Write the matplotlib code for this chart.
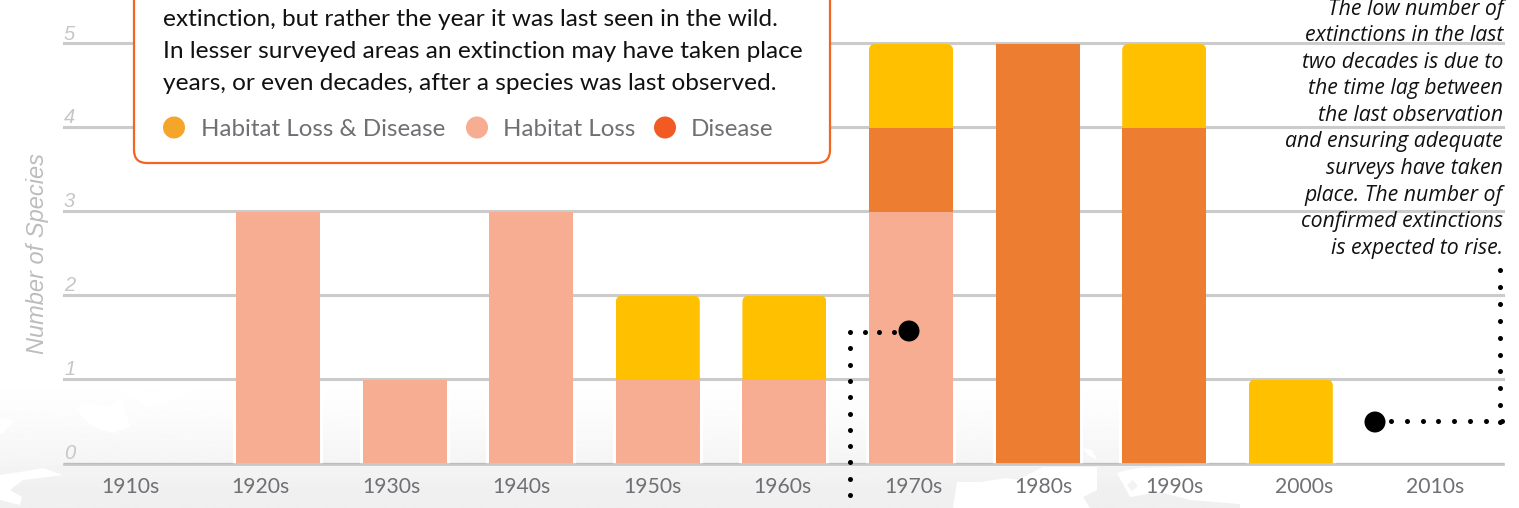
import numpy as np
import matplotlib
matplotlib.use('Agg')
import matplotlib.pyplot as plt
from matplotlib.patches import FancyBboxPatch, Polygon, Circle

plt.rcParams['font.family'] = ['Lato', 'DejaVu Sans']

decades = ['1910s', '1920s', '1930s', '1940s', '1950s', '1960s', '1970s', '1980s', '1990s', '2000s', '2010s']
habitat = [0, 3, 1, 3, 1, 1, 3, 0, 0, 0, 0]
disease = [0, 0, 0, 0, 0, 0, 1, 5, 4, 0, 0]
both = [0, 0, 0, 0, 1, 1, 1, 0, 1, 1, 0]
y_ticks = [0, 1, 2, 3, 4, 5]

box_lines = ['extinction, but rather the year it was last seen in the wild.',
             'In lesser surveyed areas an extinction may have taken place',
             'years, or even decades, after a species was last observed.']
note_lines = ['The low number of', 'extinctions in the last', 'two decades is due to',
              'the time lag between', 'the last observation', 'and ensuring adequate',
              'surveys have taken', 'place. The number of', 'confirmed extinctions',
              'is expected to rise.']
legend_names = ['Habitat Loss & Disease', 'Habitat Loss', 'Disease']

W, H = 1519, 508
PEACH = '#f7ad91'
ORANGE = '#ed7d31'
YELLOW = '#ffc000'
GREY_TEXT = '#6f7073'

fig = plt.figure(figsize=(W / 100, H / 100), dpi=100, facecolor='white')

# background: faded map, grey land with white sea
bg = fig.add_axes([0, 0, 1, 1], zorder=0)
grad = np.clip((np.linspace(340, 508, 100) - 365) / 125, 0, 1)[:, None] ** 1.6
bg.imshow(1 - 0.06 * grad, cmap='gray', vmin=0, vmax=1, extent=[0, 1240, 508, 340], aspect='auto')
bg.set_xlim(0, W)
bg.set_ylim(H, 0)
bg.axis('off')
seas = [
    [(75, 408), (87, 404), (110, 406), (127, 393), (147, 407), (167, 403), (187, 395), (200, 390), (173, 387),
     (150, 395), (135, 385), (120, 392), (130, 427), (113, 433), (100, 430), (88, 423)],
    [(0, 418), (15, 420), (3, 433), (0, 434)],
    [(0, 475), (20, 472), (43, 468), (63, 475), (47, 477), (23, 480), (10, 490), (22, 497), (20, 505), (0, 500)],
    [(953, 508), (957, 482), (980, 482), (1007, 478), (1018, 480), (1043, 467), (1097, 467), (1097, 490),
     (1083, 497), (1090, 508)],
    [(1083, 448), (1092, 450), (1097, 460), (1088, 455)],
    [(1117, 473), (1127, 470), (1140, 468), (1206, 466), (1240, 466), (1240, 504), (1190, 500), (1160, 492),
     (1130, 497)],
    [(1206, 340), (1240, 340), (1240, 470), (1206, 470)],
]
for s in seas:
    bg.add_patch(Polygon(s, closed=True, fc='white', ec='none'))
bg.add_patch(Polygon([(1127, 485), (1133, 480), (1138, 486), (1132, 491)], closed=True, fc='#f3f3f3', ec='none'))

# main chart
left, right, top, base = 64, 1503, 44, 463.5
ax = fig.add_axes([left / W, 1 - base / H, (right - left) / W, (base - top) / H], zorder=1)
ax.patch.set_alpha(0)
step = 126.6
x0 = (151.4 - left) / step
ax.set_xlim(-x0, (right - left) / step - x0)
ax.set_ylim(0, 5)
for s in ax.spines.values():
    s.set_visible(False)

x = np.arange(len(decades))
habitat = np.array(habitat)
disease = np.array(disease)
both = np.array(both)
total = habitat + disease + both
w = 84 / step

ax.axhline(0.011, color='#666666', lw=0.8, zorder=1, clip_on=False)
ax.bar(x, total, width=w + 6 / step, color='white', zorder=2, clip_on=False)
for t in y_ticks[1:]:
    ax.axhline(t + 0.012, color='#cbcbcb', lw=2.2, zorder=3, clip_on=False)

ax.bar(x, habitat, width=w, color=PEACH, zorder=4)
ax.bar(x, disease, width=w, bottom=habitat, color=ORANGE, zorder=4, clip_on=False)
tops = ax.bar(x, both, width=w, bottom=habitat + disease, color=YELLOW, zorder=4)
for bar in tops:
    if bar.get_height() > 0:
        # only the yellow segments have rounded tops
        clip = FancyBboxPatch((bar.get_x(), bar.get_y() - 1), bar.get_width(), bar.get_height() + 1,
                              boxstyle='round,pad=0,rounding_size=0.05', mutation_aspect=step / 83.9,
                              transform=ax.transData)
        bar.set_clip_path(clip)

ax.axhline(-0.006, color='#c8c8c8', lw=2, zorder=5, clip_on=False)

# tick labels are spaced a little wider than the bars
ax.set_xticks((130 + 130.5 * x - 151.4) / step)
ax.set_xticklabels(decades, fontsize=15.2, color=GREY_TEXT)
ax.tick_params(axis='x', length=0, pad=10)
ax.set_yticks([])
for t in y_ticks:
    ax.text(-x0, t + 0.005, str(t), fontsize=14.5, style='italic', color='#c6c6c6', family='Liberation Sans',
            ha='left', va='bottom', zorder=6)

# overlay in pixel coordinates: callout, note and dotted leaders
ov = fig.add_axes([0, 0, 1, 1], zorder=2)
ov.set_xlim(0, W)
ov.set_ylim(H, 0)
ov.axis('off')

ov.text(38, 254, 'Number of Species', rotation=90, fontsize=17, style='italic', color='#bdbdbd',
        family='Liberation Sans', ha='center', va='center')

ov.add_patch(FancyBboxPatch((134, -60), 696, 223, boxstyle='round,pad=0,rounding_size=13',
                            fc='white', ec='#f26522', lw=1.6))
for i, line in enumerate(box_lines):
    ov.text(163, 19 + 32.3 * i, line, fontsize=17.6, color='#111111', ha='left', va='center')

legend_x = [174, 477, 665]
legend_text_x = [201, 503, 691]
legend_colors = ['#f5a52a', PEACH, '#f15a22']
for cx, tx, c, name in zip(legend_x, legend_text_x, legend_colors, legend_names):
    ov.add_patch(Circle((cx, 127.5), 11, fc=c, ec='none'))
    ov.text(tx, 129, name, fontsize=17.4, color=GREY_TEXT, ha='left', va='center')

for i, line in enumerate(note_lines):
    ov.text(1503, 9 + 26.6 * i, line, fontsize=15.3, style='italic', color='#111111', family='Open Sans',
            ha='right', va='center')

dot = dict(ls='none', marker='o', ms=3.6, color='black', mew=0)
ov.plot(np.full(11, 850), 332 + 16.3 * np.arange(11), **dot)
ov.plot(850 + 14.7 * np.arange(1, 4), np.full(3, 332), **dot)
ov.plot(np.full(10, 1500), 270 + 16.9 * np.arange(10), **dot)
ov.plot(1391 + 15.8 * np.arange(8), np.full(8, 421), **dot)
ov.add_patch(Circle((909, 331), 10.5, fc='black', ec='none'))
ov.add_patch(Circle((1375, 422), 10.5, fc='black', ec='none'))

fig.savefig('out.png', dpi=100)
